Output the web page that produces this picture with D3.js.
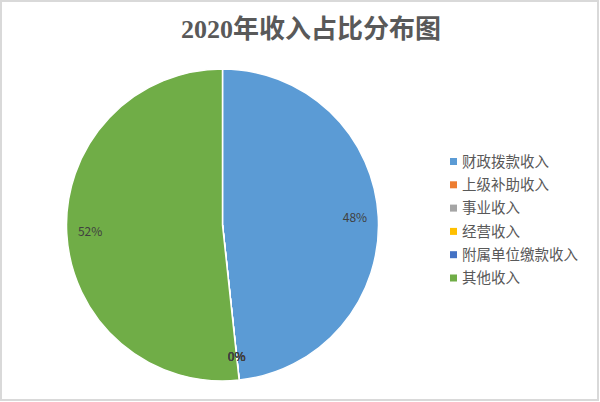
<!DOCTYPE html>
<html><head><meta charset="utf-8">
<script src="https://cdn.jsdelivr.net/npm/d3@7"></script>
<style>html,body{margin:0;padding:0;background:#fff;}svg{display:block;}</style>
</head><body>
<svg id="chart" width="600" height="402"></svg>
<script>
const title = "2020年收入占比分布图";
const categories = ["财政拨款收入","上级补助收入","事业收入","经营收入","附属单位缴款收入","其他收入"];
const values = [48.3, 0, 0, 0, 0, 51.7];
const colors = ["#5B9BD5","#ED7D31","#A5A5A5","#FFC000","#4472C4","#70AD47"];

const svg = d3.select("#chart");
svg.append("rect").attr("x",1).attr("y",1).attr("width",597).attr("height",399)
  .attr("fill","#fff").attr("stroke","#d9d9d9").attr("stroke-width",2);

svg.append("text").attr("x",311).attr("y",38).attr("text-anchor","middle")
  .attr("font-family","'Liberation Serif','Noto Sans CJK SC',serif").attr("font-weight","bold")
  .attr("font-size",26).attr("fill","#595959").text(title);

const data = categories.map((c,i)=>({name:c,value:values[i],color:colors[i]}));
const cx = 222.5, cy = 225, R = 156;
const pie = d3.pie().value(d=>d.value).sort(null);
const arcs = pie(data);
const arc = d3.arc().innerRadius(0).outerRadius(R);
const labelArc = d3.arc().innerRadius(R*0.85).outerRadius(R*0.85);
const g = svg.append("g").attr("transform",`translate(${cx},${cy})`);
g.selectAll("path").data(arcs).join("path").attr("d",arc)
  .attr("fill",d=>d.data.color).attr("stroke","#fff").attr("stroke-width",1.5);
const total = d3.sum(values);
g.selectAll("text").data(arcs).join("text")
  .attr("transform",d=>`translate(${labelArc.centroid(d)})`)
  .attr("text-anchor","middle").attr("dy","0.35em")
  .attr("font-family","'Noto Sans CJK SC',sans-serif").attr("font-size",12)
  .attr("fill","#404040")
  .text(d=>Math.round(d.data.value/total*100)+"%");

const leg = svg.append("g");
const y = d3.scalePoint().domain(categories).range([161.5,278]);
const items = leg.selectAll("g").data(data).join("g")
  .attr("transform",d=>`translate(450,${y(d.name)})`);
items.append("rect").attr("x",0).attr("y",-3.5).attr("width",7).attr("height",7).attr("fill",d=>d.color);
items.append("text").attr("x",12).attr("dy","0.36em")
  .attr("font-family","'Noto Sans CJK SC',sans-serif").attr("font-size",14.5)
  .attr("fill","#595959").text(d=>d.name);
</script>
</body></html>
